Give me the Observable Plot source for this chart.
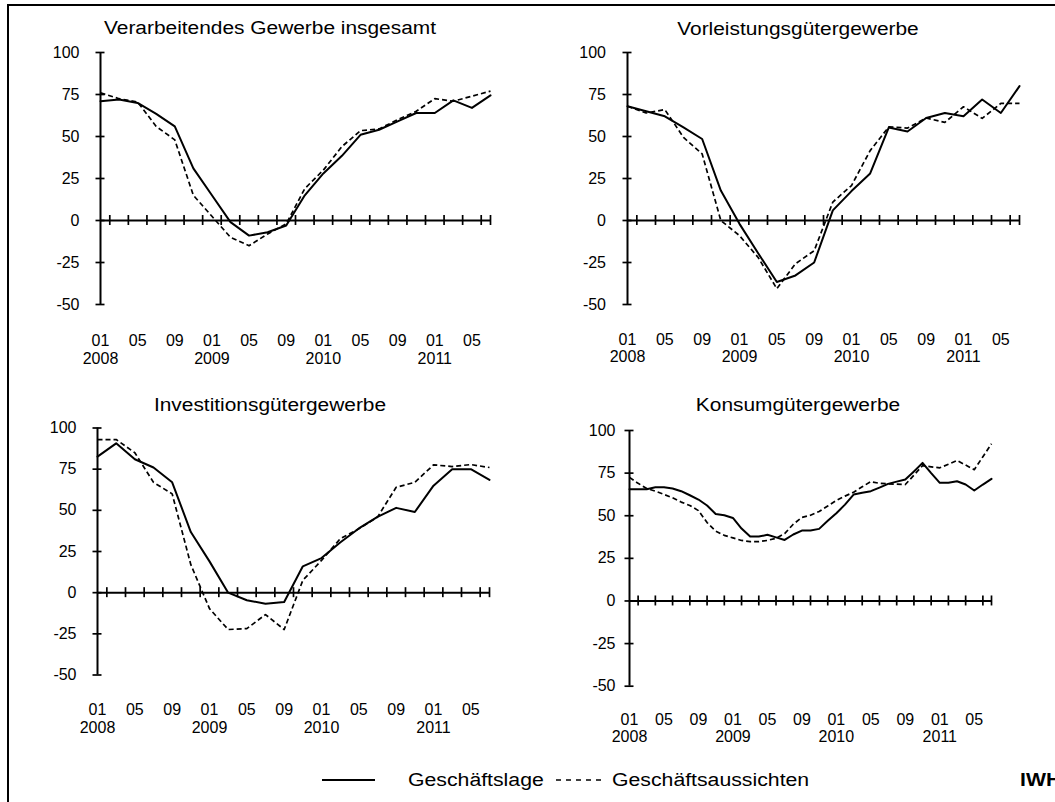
<!DOCTYPE html>
<html>
<head>
<meta charset="utf-8">
<script src="https://cdn.jsdelivr.net/npm/d3@7"></script>
<script src="https://cdn.jsdelivr.net/npm/@observablehq/plot@0.6"></script>
<style>
  body { margin: 0; background: #fff; font-family: "Liberation Sans", Arial, sans-serif; color: #000; }
  #page { position: relative; width: 1055px; height: 802px; overflow: hidden; background: #fff; }
  #frame { position: absolute; left: 7px; top: 4px; width: 1200px; height: 1000px; border: 2px solid #000; box-sizing: border-box; }
  .panel { position: absolute; }
  .title { position: absolute; font-size: 18px; line-height: 20px; white-space: nowrap; transform: translateX(-50%) scaleX(1.16); }
  .leg { position: absolute; font-size: 18px; line-height: 20px; white-space: nowrap; transform-origin: left center; transform: scaleX(1.18); }
</style>
</head>
<body>
<div id="page"><div id="frame"></div></div>
<script>
// ---------- data ----------
const bimonthly = ["2008-01","2008-03","2008-05","2008-07","2008-09","2008-11",
  "2009-01","2009-03","2009-05","2009-07","2009-09","2009-11",
  "2010-01","2010-03","2010-05","2010-07","2010-09","2010-11",
  "2011-01","2011-03","2011-05","2011-07"];
const monthly = ["2008-01","2008-02","2008-03","2008-04","2008-05","2008-06","2008-07","2008-08","2008-09","2008-10","2008-11","2008-12",
  "2009-01","2009-02","2009-03","2009-04","2009-05","2009-06","2009-07","2009-08","2009-09","2009-10","2009-11","2009-12",
  "2010-01","2010-02","2010-03","2010-04","2010-05","2010-06","2010-07","2010-08","2010-09","2010-10","2010-11","2010-12",
  "2011-01","2011-02","2011-03","2011-04","2011-05","2011-06","2011-07"];

const gesamtLage      = [71, 72, 70, 63.5, 56, 31, 15, -1, -9, -7, -3, 15, 28, 38.5, 51, 54, 59, 64, 64, 71.5, 67, 74.5];
const gesamtAussicht  = [76, 72.5, 70.5, 56, 48, 15, 2.5, -10, -15, -8, -2, 19, 30, 44, 53.5, 54.5, 60, 65, 72.5, 71, 74, 77];
const vorleistLage    = [68, 65, 62, 55.4, 48.5, 17.8, -2, -19.5, -36.6, -32.7, -25, 6, 17.5, 28, 55.4, 53, 61, 64, 62, 72, 64, 80];
const vorleistAussicht= [68, 64, 66, 49.5, 39.6, 0, -9, -22, -40.6, -25.7, -18, 11, 20.8, 41.6, 55.8, 55, 61, 58.4, 67.7, 60.8, 69.7, 69.7];
const investLage      = [82.6, 90.7, 81, 76, 67, 36.8, 19, 0, -4.6, -6.7, -5.7, 16, 21, 30.5, 39, 46, 51.5, 49, 65, 75, 75, 68.5];
const investAussicht  = [93, 93, 85, 67, 60, 17, -9.7, -22.4, -21.8, -13.3, -22.4, 7.5, 19.6, 32.7, 38.8, 45.9, 64, 67, 77.6, 76.6, 77.8, 76];
const konsumLage      = [65.5, 65.5, 65.5, 66.7, 66.7, 66, 64.4, 62, 59.5, 56, 51, 50.3, 48.7, 42.5, 37.8, 37.8, 38.8, 37.3, 35.8, 39, 41.3, 41.3,
  42.3, 47, 51.5, 56.5, 62.4, 63.5, 64.4, 66.5, 68.7, 70, 71.2, 76, 81, 75, 69.3, 69.3, 70.2, 68.3, 64.8, 68.3, 71.6];
const konsumAussicht  = [72.5, 69, 66, 64.4, 62.5, 60.5, 58, 56, 53, 46, 41, 38.5, 37, 35.5, 34.8, 34.8, 35.5, 36.8, 39.5, 45, 49, 50.3,
  52.5, 55.7, 59, 61.5, 63.8, 67, 70, 69, 68.7, 68.5, 68.3, 73.8, 79.4, 78.7, 78.1, 80.2, 82.4, 79.7, 77, 84.6, 92.2];

const yTicks = [-50, -25, 0, 25, 50, 75, 100];
const xLabels = ["2008-01","2008-05","2008-09","2009-01","2009-05","2009-09","2010-01","2010-05","2010-09","2011-01","2011-05"];
const titles = ["Verarbeitendes Gewerbe insgesamt", "Vorleistungsgütergewerbe", "Investitionsgütergewerbe", "Konsumgütergewerbe"];
const legendLabels = ["Geschäftslage", "Geschäftsaussichten"];

// ---------- helpers ----------
const FONT = "Liberation Sans, Arial, sans-serif";
function monthIndex(s) { const [y, m] = s.split("-").map(Number); return (y - 2008) * 12 + (m - 1); }
const lastMonth = monthIndex(monthly[monthly.length - 1]);
const tickMonths = d3.range(1, lastMonth, 2).concat([lastMonth]);

function panel(cfg) {
  const rows = cfg.dates.map((d, i) => ({m: monthIndex(d), lage: cfg.lage[i], aus: cfg.aus[i]}));
  const innerW = cfg.width - cfg.mL - cfg.mR;
  const innerH = cfg.height - cfg.mT - cfg.mB;
  const xt = 5 * 150 / innerH;        // half length of x ticks in y units
  const yt = 4.5 * lastMonth / innerW; // half length of y ticks in month units
  const chart = Plot.plot({
    width: cfg.width, height: cfg.height,
    marginLeft: cfg.mL, marginRight: cfg.mR, marginTop: cfg.mT, marginBottom: cfg.mB,
    x: {domain: [0, lastMonth], axis: null},
    y: {domain: [-50, 100], axis: null},
    style: {background: "transparent", overflow: "visible", fontFamily: FONT, color: "#000"},
    marks: [
      Plot.ruleY([0], {x1: 0, x2: lastMonth, stroke: "#000", strokeWidth: 2}),
      Plot.ruleX([0], {y1: -50, y2: 100, stroke: "#000", strokeWidth: 2}),
      Plot.ruleX(tickMonths, {x: d => d, y1: -xt, y2: xt, stroke: "#000", strokeWidth: 1.7}),
      Plot.ruleY(yTicks, {y: d => d, x1: -yt, x2: yt, stroke: "#000", strokeWidth: 1.7}),
      Plot.text(yTicks, {x: 0, y: d => d, text: d => String(d), textAnchor: "end", dx: -cfg.gap,
        fontSize: 16, fontFamily: FONT, fill: "#000"}),
      Plot.text(xLabels, {x: d => monthIndex(d), y: -50,
        text: d => { const [yy, mm] = d.split("-"); return mm === "01" ? mm + "\n" + yy : mm; },
        lineAnchor: "top", dy: cfg.labelDy, lineHeight: 1.1, fontSize: 16, fontFamily: FONT, fill: "#000"}),
      Plot.line(rows, {x: "m", y: "aus", stroke: "#000", strokeWidth: 1.7, strokeDasharray: "5,3", strokeLinecap: "butt"}),
      Plot.line(rows, {x: "m", y: "lage", stroke: "#000", strokeWidth: 2})
    ]
  });
  const wrap = document.createElement("div");
  wrap.className = "panel";
  wrap.style.left = cfg.left + "px";
  wrap.style.top = cfg.top + "px";
  wrap.appendChild(chart);
  document.getElementById("page").appendChild(wrap);

  const t = document.createElement("div");
  t.className = "title";
  t.textContent = cfg.title;
  t.style.left = cfg.titleX + "px";
  t.style.top = cfg.titleY + "px";
  document.getElementById("page").appendChild(t);
}

panel({title: titles[0], dates: bimonthly, lage: gesamtLage, aus: gesamtAussicht,
  left: 0, top: 0, width: 527, height: 385, mL: 100, mR: 37, mT: 52, mB: 81, labelDy: 29, gap: 21, titleX: 270, titleY: 18});
panel({title: titles[1], dates: bimonthly, lage: vorleistLage, aus: vorleistAussicht,
  left: 527, top: 0, width: 528, height: 385, mL: 100, mR: 36, mT: 52, mB: 81, labelDy: 27.5, gap: 21.5, titleX: 798, titleY: 19});
panel({title: titles[2], dates: bimonthly, lage: investLage, aus: investAussicht,
  left: 0, top: 380, width: 527, height: 350, mL: 97, mR: 38, mT: 47.5, mB: 55.5, labelDy: 27.5, gap: 21, titleX: 270, titleY: 395});
panel({title: titles[3], dates: monthly, lage: konsumLage, aus: konsumAussicht,
  left: 527, top: 380, width: 528, height: 380, mL: 102, mR: 64, mT: 50, mB: 74.3, labelDy: 26, gap: 14, titleX: 798, titleY: 395});

// ---------- legend ----------
const page = document.getElementById("page");
const ns = "http://www.w3.org/2000/svg";
function legendLine(x1, x2, dashed) {
  const svg = document.createElementNS(ns, "svg");
  svg.setAttribute("width", x2 - x1 + 2); svg.setAttribute("height", 6);
  svg.style.position = "absolute"; svg.style.left = (x1 - 1) + "px"; svg.style.top = "777px";
  const l = document.createElementNS(ns, "line");
  l.setAttribute("x1", 1); l.setAttribute("x2", x2 - x1 + 1); l.setAttribute("y1", 3); l.setAttribute("y2", 3);
  l.setAttribute("stroke", "#000"); l.setAttribute("stroke-width", dashed ? 1.6 : 1.8);
  if (dashed) l.setAttribute("stroke-dasharray", "5,5");
  svg.appendChild(l); page.appendChild(svg);
}
function legendText(txt, x, bold) {
  const d = document.createElement("div");
  d.className = "leg"; d.textContent = txt;
  d.style.left = x + "px"; d.style.top = "770px";
  if (bold) d.style.fontWeight = "bold";
  page.appendChild(d);
}
legendLine(322, 375, false);
legendText(legendLabels[0], 408, false);
legendLine(556, 601, true);
legendText(legendLabels[1], 612, false);
legendText("IWH", 1020, true);
</script>
</body>
</html>
